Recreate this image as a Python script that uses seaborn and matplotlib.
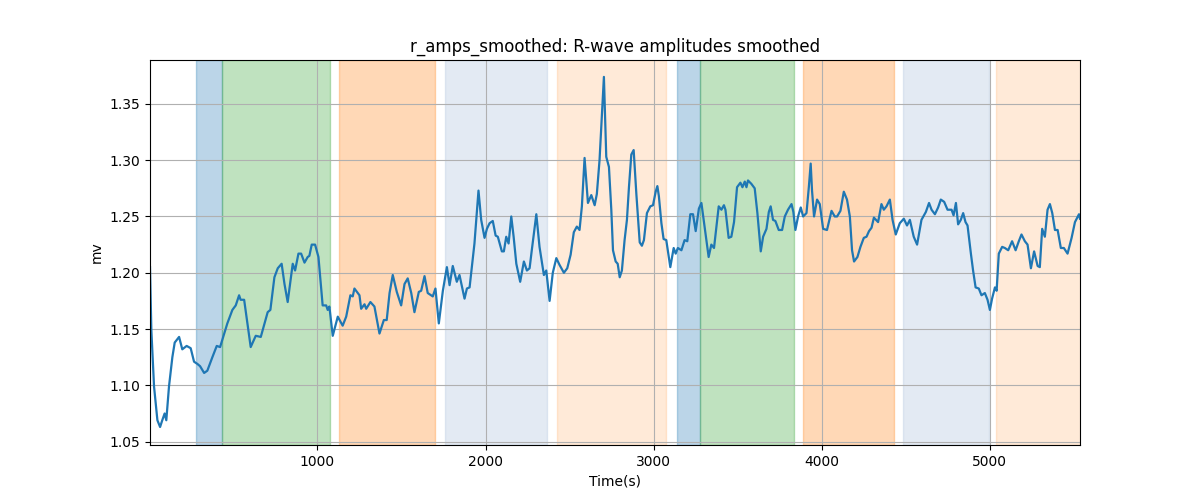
import numpy as np
import pandas as pd
import matplotlib
matplotlib.use('Agg')
import matplotlib.pyplot as plt
import seaborn as sns

# values
time_s = [4, 12, 28, 48, 64, 77, 91, 101, 117, 137, 151, 177, 196, 222, 246, 266, 286, 302, 326, 345,
          375, 401, 421, 464, 494, 514, 534, 543, 564, 603, 633, 663, 685, 704, 720, 744, 764, 787, 804, 823,
          853, 867, 887, 903, 923, 942, 952, 966, 986, 1006, 1022, 1031, 1052, 1061, 1071, 1091, 1121, 1150, 1171, 1196,
          1210, 1220, 1250, 1260, 1280, 1290, 1315, 1339, 1369, 1395, 1412, 1429, 1448, 1472, 1498, 1518, 1537, 1558, 1577, 1603,
          1617, 1637, 1656, 1686, 1702, 1722, 1746, 1770, 1786, 1805, 1829, 1845, 1875, 1889, 1905, 1934, 1958, 1974, 1994, 2008,
          2024, 2043, 2060, 2073, 2097, 2109, 2123, 2137, 2153, 2167, 2183, 2206, 2228, 2246, 2262, 2275, 2302, 2321, 2347, 2361,
          2381, 2400, 2421, 2440, 2466, 2486, 2506, 2525, 2543, 2559, 2573, 2589, 2609, 2629, 2649, 2662, 2678, 2694, 2704, 2718,
          2734, 2748, 2758, 2774, 2786, 2798, 2811, 2827, 2841, 2853, 2867, 2881, 2897, 2917, 2930, 2942, 2960, 2980, 2996, 3012,
          3022, 3031, 3046, 3059, 3075, 3099, 3119, 3131, 3144, 3165, 3184, 3200, 3218, 3234, 3250, 3269, 3284, 3304, 3320, 3327,
          3343, 3359, 3387, 3403, 3418, 3427, 3446, 3462, 3478, 3496, 3516, 3528, 3542, 3552, 3561, 3581, 3601, 3617, 3637, 3651,
          3671, 3685, 3696, 3710, 3724, 3744, 3764, 3780, 3799, 3820, 3831, 3843, 3859, 3875, 3889, 3909, 3923, 3934, 3942, 3954,
          3972, 3988, 4008, 4031, 4058, 4077, 4091, 4111, 4131, 4150, 4167, 4180, 4192, 4212, 4230, 4250, 4266, 4281, 4296, 4310,
          4335, 4355, 4369, 4385, 4405, 4421, 4440, 4464, 4488, 4507, 4524, 4547, 4567, 4593, 4619, 4638, 4653, 4673, 4692, 4708,
          4728, 4748, 4772, 4784, 4798, 4811, 4827, 4841, 4855, 4867, 4887, 4900, 4915, 4934, 4950, 4970, 4986, 5000, 5013, 5030,
          5040, 5053, 5073, 5089, 5109, 5132, 5153, 5172, 5188, 5208, 5224, 5244, 5263, 5284, 5297, 5311, 5327, 5343, 5357, 5371,
          5387, 5403, 5422, 5440, 5462, 5486, 5506, 5530, 5536]

r_amps = [1.205, 1.149, 1.099, 1.069, 1.063, 1.069, 1.075, 1.069, 1.099, 1.125, 1.138, 1.143, 1.132, 1.135, 1.133, 1.121, 1.119, 1.117, 1.111, 1.113,
          1.125, 1.135, 1.134, 1.155, 1.167, 1.171, 1.180, 1.176, 1.176, 1.134, 1.144, 1.143, 1.155, 1.165, 1.167, 1.196, 1.204, 1.208, 1.190, 1.174,
          1.208, 1.202, 1.217, 1.217, 1.209, 1.214, 1.215, 1.225, 1.225, 1.214, 1.187, 1.171, 1.171, 1.167, 1.170, 1.144, 1.161, 1.153, 1.161, 1.180,
          1.179, 1.186, 1.180, 1.168, 1.172, 1.168, 1.174, 1.170, 1.146, 1.158, 1.158, 1.182, 1.198, 1.183, 1.171, 1.190, 1.195, 1.182, 1.165, 1.183,
          1.184, 1.197, 1.182, 1.179, 1.186, 1.155, 1.184, 1.205, 1.189, 1.206, 1.192, 1.198, 1.177, 1.186, 1.187, 1.226, 1.273, 1.247, 1.231, 1.239,
          1.244, 1.246, 1.233, 1.232, 1.219, 1.219, 1.232, 1.226, 1.250, 1.232, 1.208, 1.192, 1.210, 1.202, 1.204, 1.220, 1.252, 1.223, 1.198, 1.202,
          1.175, 1.200, 1.213, 1.207, 1.200, 1.204, 1.216, 1.236, 1.241, 1.238, 1.259, 1.302, 1.262, 1.269, 1.260, 1.270, 1.300, 1.345, 1.374, 1.303,
          1.294, 1.256, 1.220, 1.210, 1.208, 1.196, 1.202, 1.229, 1.247, 1.276, 1.305, 1.309, 1.270, 1.227, 1.224, 1.229, 1.253, 1.259, 1.260, 1.272,
          1.277, 1.268, 1.244, 1.230, 1.229, 1.205, 1.222, 1.217, 1.222, 1.220, 1.229, 1.228, 1.252, 1.252, 1.237, 1.257, 1.262, 1.240, 1.222, 1.214,
          1.225, 1.222, 1.259, 1.256, 1.260, 1.256, 1.231, 1.232, 1.245, 1.276, 1.280, 1.276, 1.281, 1.276, 1.282, 1.279, 1.275, 1.253, 1.219, 1.232,
          1.239, 1.254, 1.259, 1.247, 1.246, 1.238, 1.238, 1.250, 1.256, 1.261, 1.254, 1.238, 1.250, 1.258, 1.250, 1.253, 1.276, 1.297, 1.273, 1.250,
          1.265, 1.261, 1.239, 1.238, 1.255, 1.250, 1.250, 1.255, 1.272, 1.265, 1.250, 1.220, 1.210, 1.214, 1.223, 1.231, 1.232, 1.237, 1.240, 1.249,
          1.245, 1.261, 1.256, 1.259, 1.265, 1.247, 1.234, 1.244, 1.248, 1.242, 1.247, 1.232, 1.225, 1.247, 1.254, 1.262, 1.256, 1.252, 1.258, 1.265,
          1.263, 1.256, 1.256, 1.251, 1.262, 1.243, 1.247, 1.253, 1.245, 1.242, 1.217, 1.202, 1.187, 1.186, 1.180, 1.182, 1.176, 1.167, 1.177, 1.187,
          1.184, 1.217, 1.223, 1.222, 1.220, 1.228, 1.220, 1.228, 1.234, 1.228, 1.225, 1.204, 1.219, 1.206, 1.205, 1.239, 1.232, 1.256, 1.261, 1.253,
          1.238, 1.238, 1.222, 1.222, 1.217, 1.231, 1.245, 1.252, 1.248]

# shaded phases: start, end, colour, alpha
span_start = [280, 435, 1131, 1756, 2423, 3137, 3274, 3887, 4482, 5036]
span_end = [435, 1077, 1702, 2363, 3071, 3274, 3833, 4429, 4994, 5600]
span_color = ['tab:blue', 'tab:green', 'tab:orange', 'lightsteelblue', 'tab:orange',
              'tab:blue', 'tab:green', 'tab:orange', 'lightsteelblue', 'tab:orange']
span_alpha = [0.3, 0.3, 0.3, 0.35, 0.16, 0.3, 0.3, 0.3, 0.35, 0.16]

df = pd.DataFrame({'Time(s)': time_s, 'mv': r_amps})

fig, ax = plt.subplots(figsize=(12, 5))

for s, e, c, a in zip(span_start, span_end, span_color, span_alpha):
    ax.axvspan(s, e, color=c, alpha=a)

sns.lineplot(x='Time(s)', y='mv', data=df, ax=ax, color='tab:blue', linewidth=1.6)

ax.set_xlim(min(time_s), max(time_s))
ax.set_ylim(1.047, 1.389)
ax.grid(True)
ax.set_title('r_amps_smoothed: R-wave amplitudes smoothed')
ax.set_xlabel('Time(s)')
ax.set_ylabel('mv')

plt.savefig('out.png', dpi=100)
